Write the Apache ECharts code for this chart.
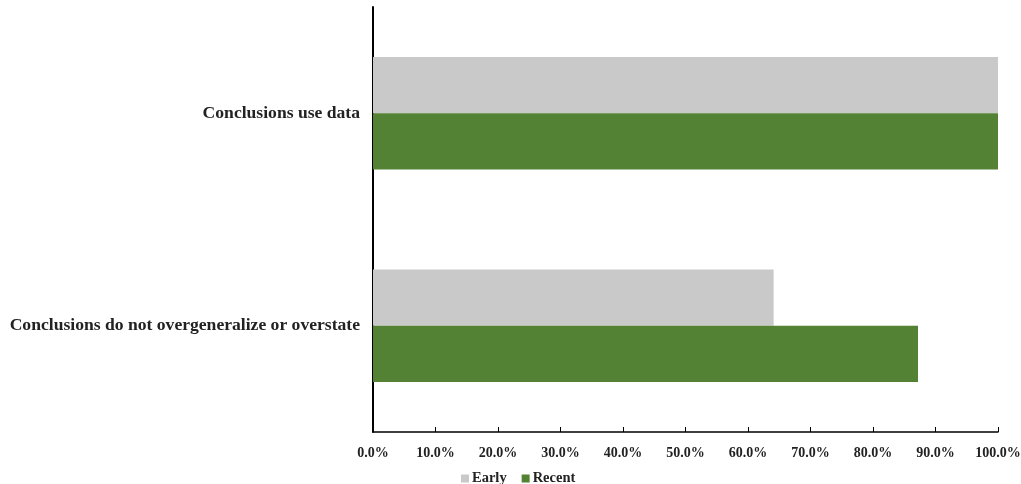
<!DOCTYPE html>
<html><head><meta charset="utf-8">
<script src="https://cdn.jsdelivr.net/npm/echarts@6/dist/echarts.min.js"></script>
<style>html,body{margin:0;padding:0;background:#fff}#c{width:1021px;height:484px}</style>
</head><body><div id="c"></div>
<script>
var categories = ["Conclusions use data", "Conclusions do not overgeneralize or overstate"];
var earlyValues = [100.0, 64.1];
var recentValues = [100.0, 87.2];
var tickLabels = ["0.0%","10.0%","20.0%","30.0%","40.0%","50.0%","60.0%","70.0%","80.0%","90.0%","100.0%"];

var font = "'Liberation Serif', 'DejaVu Serif', serif";
var chart = echarts.init(document.getElementById('c'));
chart.setOption({
  animation: false,
  textStyle: {fontFamily: font},
  grid: {left: 373, right: 23, top: 7, bottom: 52, containLabel: false, outerBoundsMode: 'none'},
  legend: {
    top: 469, left: 456, itemWidth: 8, itemHeight: 8, itemGap: 15,
    icon: 'rect', padding: [2, 5, 2, 5],
    textStyle: {fontFamily: font, fontWeight: 'bold', fontSize: 14.5, color: '#222', padding: [0,0,0,-2]},
    data: ['Early', 'Recent']
  },
  xAxis: {
    type: 'value', min: 0, max: 100, interval: 10,
    axisLine: {show: true, lineStyle: {color: '#000', width: 1.5}},
    axisTick: {show: true, inside: true, length: 5, lineStyle: {color: '#000', width: 1}},
    splitLine: {show: false},
    axisLabel: {margin: 14, fontFamily: font, fontWeight: 'bold', fontSize: 14, color: '#222',
      formatter: function(v){ return tickLabels[Math.round(v/10)]; }}
  },
  yAxis: {
    type: 'category', data: categories, inverse: true,
    axisLine: {show: true, lineStyle: {color: '#000', width: 2}},
    axisTick: {show: false},
    axisLabel: {margin: 13, fontFamily: font, fontWeight: 'bold', fontSize: 17.6, color: '#222'}
  },
  series: [
    {name: 'Early', type: 'bar', data: earlyValues, itemStyle: {color: '#C9C9C9'}, barGap: '0%', barCategoryGap: '47%'},
    {name: 'Recent', type: 'bar', data: recentValues, itemStyle: {color: '#548235'}, barGap: '0%', barCategoryGap: '47%'}
  ]
});
</script></body></html>
